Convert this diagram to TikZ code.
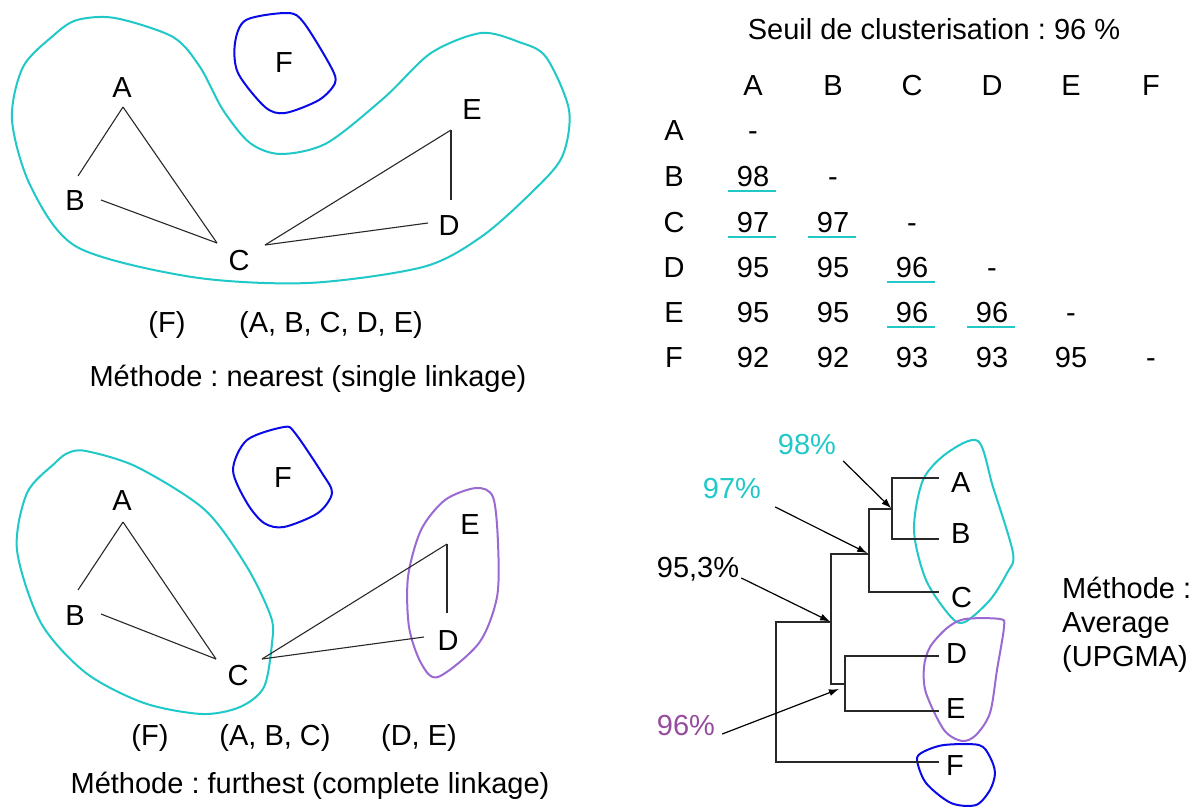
\documentclass[tikz,border=0pt]{standalone}
\usepackage{fontspec}
\setmainfont{Liberation Sans}
\usetikzlibrary{arrows.meta}
\definecolor{cy}{RGB}{32,200,200}
\definecolor{bl}{RGB}{10,10,230}
\definecolor{pu}{RGB}{155,105,210}
\definecolor{ptx}{RGB}{150,75,158}
\definecolor{ln}{RGB}{40,40,40}
\frenchspacing
\begin{document}
\begin{tikzpicture}[x=1pt,y=-1pt,
  every node/.style={font=\fontsize{29}{34}\selectfont, inner sep=0pt},
  lbl/.style={anchor=base},
  lblw/.style={anchor=base west},
  edge/.style={draw=ln, line width=1.1pt},
  blob/.style={line width=2pt},
  tree/.style={draw=ln, line width=1.3pt},
  arr/.style={draw=black, line width=1.2pt, -{Latex[length=10pt,width=7pt]}},
  uline/.style={draw=cy, line width=2pt}]
\useasboundingbox (0,0) rectangle (1195,807);

% ---------- top-left graph ----------
\draw[cy,blob] plot[smooth cycle] coordinates {(54,35) (77,20) (115,18) (173,37) (200,67) (223,110) (250,143) (281,154) (327,143) (385,97) (431,53) (481,33) (519,42) (546,57) (569,110) (562,157) (531,193) (481,237) (423,267) (308,283) (192,277) (77,247) (31,187) (12,120) (23,67)};
\draw[bl,blob] plot[smooth cycle] coordinates {(235,43) (246,20) (288,13) (304,23) (331,67) (335,83) (319,100) (285,113) (265,107) (238,73)};
\node[lbl] (A1) at (122,97) {A};
\node[lbl] (B1) at (75,210) {B};
\node[lbl] (C1) at (239,270) {C};
\node[lbl] (D1) at (449,235) {D};
\node[lbl] (E1) at (472,119) {E};
\node[lbl] (F1) at (284,72) {F};
\draw[edge] ([shift={(1,10)}]A1.base) -- ([shift={(3,-34)}]B1.base);
\draw[edge] ([shift={(1,10)}]A1.base) -- ([shift={(-22,-27)}]C1.base);
\draw[edge] ([shift={(26,-10)}]B1.base) -- ([shift={(-22,-27)}]C1.base);
\draw[edge] ([shift={(26,-25)}]C1.base) -- ([shift={(-21,11)}]E1.base);
\draw[edge] ([shift={(26,-25)}]C1.base) -- ([shift={(-21,-12)}]D1.base);
\draw[edge] ([shift={(2,-35)}]D1.base) -- ([shift={(-21,11)}]E1.base);
\node[lbl] (g1f) at (167,332) {(F)};
\node[lbl] (g1a) at (331,332) {(A, B, C, D, E)};
\node[lbl] (m1) at (308,386) {Méthode : nearest (single linkage)};

% ---------- bottom-left graph ----------
\draw[cy,blob] plot[smooth cycle] coordinates {(68,453) (86,451) (137,467) (205,510) (247,567) (271,617) (272,643) (264,687) (240,707) (202,714) (144,703) (86,673) (41,623) (17,550) (27,493) (55,463)};
\draw[bl,blob] plot[smooth cycle] coordinates {(233,470) (247,440) (284,427) (295,433) (322,473) (332,493) (318,513) (284,527) (264,523) (247,503)};
\draw[pu,blob] plot[smooth cycle] coordinates {(408,577) (421,530) (445,500) (476,488) (493,497) (498,543) (497,597) (479,643) (438,677) (421,663) (409,627)};
\node[lbl] (A2) at (122,510) {A};
\node[lbl] (B2) at (75,625) {B};
\node[lbl] (C2) at (238,685) {C};
\node[lbl] (D2) at (448,650) {D};
\node[lbl] (E2) at (470,534) {E};
\node[lbl] (F2) at (283,487) {F};
\draw[edge] ([shift={(1,12)}]A2.base) -- ([shift={(3,-35)}]B2.base);
\draw[edge] ([shift={(1,12)}]A2.base) -- ([shift={(-22,-26)}]C2.base);
\draw[edge] ([shift={(26,-11)}]B2.base) -- ([shift={(-22,-26)}]C2.base);
\draw[edge] ([shift={(24,-26)}]C2.base) -- ([shift={(-23,10)}]E2.base);
\draw[edge] ([shift={(24,-26)}]C2.base) -- ([shift={(-24,-13)}]D2.base);
\draw[edge] ([shift={(-1,-37)}]D2.base) -- ([shift={(-23,10)}]E2.base);
\node[lbl] (g2f) at (150,745) {(F)};
\node[lbl] (g2a) at (275,745) {(A, B, C)};
\node[lbl] (g2d) at (419,745) {(D, E)};
\node[lbl] (m2) at (310,793) {Méthode : furthest (complete linkage)};

% ---------- table ----------
\node[lbl] (title) at (934,39) {Seuil de clusterisation : 96 \%};
\node[lbl] (hA) at (753,95) {A};
\node[lbl] (hB) at (833,95) {B};
\node[lbl] (hC) at (912,95) {C};
\node[lbl] (hD) at (992,95) {D};
\node[lbl] (hE) at (1071,95) {E};
\node[lbl] (hF) at (1151,95) {F};
\node[lbl] (rA) at (674,140) {A};
\node[lbl] (rB) at (674,186) {B};
\node[lbl] (rC) at (674,232) {C};
\node[lbl] (rD) at (674,277) {D};
\node[lbl] (rE) at (674,322) {E};
\node[lbl] (rF) at (674,367) {F};
\node[lbl] (tA1) at (753,140) {-};
\node[lbl] (tB1) at (753,186) {98};
\node[lbl] (tB2) at (833,186) {-};
\node[lbl] (tC1) at (753,232) {97};
\node[lbl] (tC2) at (833,232) {97};
\node[lbl] (tC3) at (912,232) {-};
\node[lbl] (tD1) at (753,277) {95};
\node[lbl] (tD2) at (833,277) {95};
\node[lbl] (tD3) at (912,277) {96};
\node[lbl] (tD4) at (992,277) {-};
\node[lbl] (tE1) at (753,322) {95};
\node[lbl] (tE2) at (833,322) {95};
\node[lbl] (tE3) at (912,322) {96};
\node[lbl] (tE4) at (992,322) {96};
\node[lbl] (tE5) at (1071,322) {-};
\node[lbl] (tF1) at (753,367) {92};
\node[lbl] (tF2) at (833,367) {92};
\node[lbl] (tF3) at (912,367) {93};
\node[lbl] (tF4) at (992,367) {93};
\node[lbl] (tF5) at (1071,367) {95};
\node[lbl] (tF6) at (1151,367) {-};
\foreach \n in {tB1,tC1,tC2,tD3,tE3,tE4}
  \draw[uline] ([shift={(-25,5)}]\n.base) -- ([shift={(23,5)}]\n.base);

% ---------- dendrogram ----------
\draw[cy,blob] plot[smooth cycle] coordinates {(978,441) (993,487) (1013,553) (1007,573) (990,600) (965,622) (951,617) (926,580) (914,530) (923,480) (947,453)};
\draw[pu,blob] plot[smooth cycle] coordinates {(965,619) (1000,619) (1004,627) (997,670) (990,713) (976,735) (962,741) (944,730) (926,693) (924,667) (930,647) (947,628)};
\draw[bl,blob] plot[smooth cycle] coordinates {(917,760) (923,752) (944,745) (979,745) (990,757) (995,773) (990,790) (976,805) (951,803) (926,783)};
\coordinate (tA) at (939,478);
\coordinate (tB) at (939,539);
\coordinate (tC) at (939,592);
\coordinate (tD) at (939,656);
\coordinate (tE) at (939,711);
\coordinate (tF) at (939,762);
\coordinate (jAB) at (892,509);
\coordinate (jABC) at (869,554);
\coordinate (jAll) at (831,622);
\coordinate (jDE) at (845,684);
\coordinate (jDEm) at (839,689);
\coordinate (jRoot) at (776,692);
\draw[tree] (tA) -| (jAB) |- (tB);
\draw[tree] (jAB) -| (jABC) |- (tC);
\draw[tree] (jABC) -| (jAll) |- (jDE);
\draw[tree] (tD) -| (jDE) |- (tE);
\draw[tree] (jAll) -| (jRoot) |- (tF);
\node[lblw] (lA) at (951,492) {A};
\node[lblw] (lB) at (951,543) {B};
\node[lblw] (lC) at (951,607) {C};
\node[lblw] (lD) at (946,663) {D};
\node[lblw] (lE) at (946,718) {E};
\node[lblw] (lF) at (946,775) {F};
\node[lbl,text=cy] (p98) at (807,454) {98\%};
\node[lbl,text=cy] (p97) at (732,498) {97\%};
\node[lbl] (p953) at (698,577) {95,3\%};
\node[lbl,text=ptx] (p96) at (686,735) {96\%};
\draw[arr, shorten >=1pt] ([shift={(7,7)}]p98.base east) -- (jAB);
\draw[arr, shorten >=2pt] ([shift={(14,9)}]p97.base east) -- (jABC);
\draw[arr, shorten >=1pt] ([shift={(2,1)}]p953.base east) -- (jAll);
\draw[arr] ([shift={(7,-1)}]p96.base east) -- (jDEm);
\node[lblw] (mt1) at (1062,598) {Méthode :};
\node[lblw] (mt2) at (1062,632) {Average};
\node[lblw] (mt3) at (1062,666) {(UPGMA)};
\end{tikzpicture}
\end{document}
